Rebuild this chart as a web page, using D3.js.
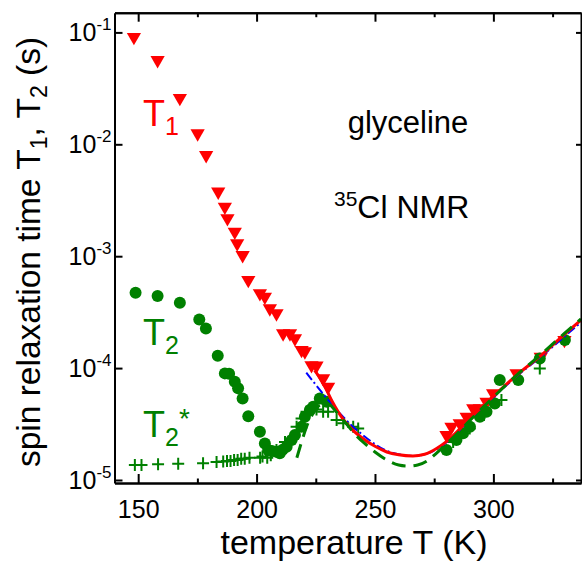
<!DOCTYPE html>
<html>
<head>
<meta charset="utf-8">
<script src="https://cdn.jsdelivr.net/npm/d3@7"></script>
<style>
  body { margin: 0; background: #fff; }
  svg { display: block; font-family: "Liberation Sans", Arial, sans-serif; }
</style>
</head>
<body>
<div id="chart"></div>
<script>
// T1 data (red down triangles)
const T1_TEMP = [148.2, 158.2, 167.6, 175.1, 178.7, 183.8, 186.6, 187.7, 190.8, 191.8, 194.1, 196.5, 201.4, 203.5,
  205.6, 208.4, 211.2, 214.1, 216.2, 219.0, 220.4, 223.2, 225.3, 228.1, 230.2,
  280.2, 282.3, 285.8, 288.7, 291.5, 294.3, 297.1, 299.9, 309.8, 320, 330];
const T1_VALUE = [0.0908, 0.0565, 0.0259, 0.0125, 0.0080, 0.00377, 0.00276, 0.00218, 0.00165, 0.00130, 0.00102, 0.000611, 0.000466, 0.000434,
  0.000341, 0.000308, 0.000204, 0.000204, 0.000184, 0.000145, 0.000141, 0.000106, 0.000105, 0.0000809, 0.0000681,
  0.0000252, 0.0000299, 0.0000321, 0.0000367, 0.0000437, 0.0000437, 0.0000500, 0.0000594, 0.0000897, 0.000126, 0.000178];

// T2 data (green circles)
const T2_TEMP = [148.9, 158.2, 167.6, 175.8, 178.6, 183.6, 186.6, 188.4, 190.8, 192.2, 194.1, 196.5, 201.4, 203.5,
  204.9, 206.5, 208.4, 209.8, 211.0, 212.7, 214.8, 216.2, 219.0, 220.4, 222.5, 223.9, 226.7, 229.6,
  280.2, 284.4, 287.2, 290.1, 294.3, 297.1, 300.6, 302.7, 310.5, 319.6, 330.2];
const T2_VALUE = [4.71e-4, 4.40e-4, 3.84e-4, 2.72e-4, 2.26e-4, 1.29e-4, 8.97e-5, 8.9e-5, 7.55e-5, 6.59e-5, 5.36e-5, 3.72e-5, 2.70e-5, 2.12e-5,
  1.85e-5, 1.82e-5, 1.79e-5, 1.73e-5, 1.86e-5, 1.98e-5, 2.28e-5, 2.52e-5, 2.99e-5, 3.67e-5, 4.22e-5, 4.51e-5, 5.36e-5, 5.00e-5,
  1.85e-5, 2.28e-5, 2.61e-5, 2.99e-5, 3.67e-5, 4.07e-5, 4.83e-5, 7.82e-5, 7.82e-5, 1.22e-4, 1.78e-4];

// T2* data (green crosses)
const T2S_TEMP = [148.6, 151.4, 158.4, 166.9, 177.4, 183.1, 185.9, 187.5, 189, 190.5, 192, 193.5, 195, 197,
  201.5, 202.5, 204.5, 206, 208.4, 212, 216.9, 219, 221.1, 225.3, 228.1, 230.2, 233.8, 236.6, 240.8, 242.9,
  283, 290, 296, 303.4, 319.6];
const T2S_VALUE = [1.36e-5, 1.36e-5, 1.38e-5, 1.40e-5, 1.41e-5, 1.45e-5, 1.46e-5, 1.48e-5, 1.48e-5, 1.51e-5, 1.51e-5, 1.55e-5, 1.55e-5, 1.58e-5,
  1.58e-5, 1.62e-5, 1.58e-5, 1.66e-5, 1.85e-5, 2.19e-5, 2.99e-5, 3.55e-5, 4.07e-5, 4.27e-5, 4.07e-5, 4.07e-5, 3.43e-5, 3.21e-5, 2.99e-5, 2.89e-5,
  2.19e-5, 2.88e-5, 3.80e-5, 5.18e-5, 9.93e-5];

// fit curves
const FIT_RED_TEMP = [224.5, 228, 232, 236, 240, 245, 250, 255, 260, 266, 271, 276, 280, 285, 290, 300, 310, 320, 330, 337];
const FIT_RED_VALUE = [9.55e-5, 7.41e-5, 5.01e-5, 3.63e-5, 2.88e-5, 2.34e-5, 2.00e-5, 1.78e-5, 1.68e-5, 1.64e-5, 1.70e-5, 1.91e-5, 2.19e-5, 2.75e-5, 3.55e-5, 5.62e-5, 8.71e-5, 1.29e-4, 2.00e-4, 2.69e-4];

const FIT_BLUE_TEMP = [221, 225, 230, 235, 240, 245, 250, 255, 260, 266, 272, 278, 285, 290, 300, 310, 320, 330, 337];
const FIT_BLUE_VALUE = [9.1e-5, 7.1e-5, 5.25e-5, 3.98e-5, 3.09e-5, 2.51e-5, 2.09e-5, 1.82e-5, 1.70e-5, 1.64e-5, 1.72e-5, 2.00e-5, 2.69e-5, 3.47e-5, 5.50e-5, 8.51e-5, 1.26e-4, 1.91e-4, 2.57e-4];

const FIT_GREEN_TEMP = [217, 219, 221, 224, 227, 230, 234, 238, 242, 246, 250, 255, 260, 264, 268, 272, 276, 280, 285, 290, 300, 310, 320, 330, 337];
const FIT_GREEN_VALUE = [1.58e-5, 2.19e-5, 2.95e-5, 3.98e-5, 4.68e-5, 4.79e-5, 3.98e-5, 3.16e-5, 2.51e-5, 2.09e-5, 1.78e-5, 1.51e-5, 1.36e-5, 1.33e-5, 1.36e-5, 1.48e-5, 1.74e-5, 2.09e-5, 2.63e-5, 3.39e-5, 5.50e-5, 8.71e-5, 1.32e-4, 2.04e-4, 2.75e-4];

// axis ticks
const X_MAJOR = [150, 200, 250, 300];
const X_MINOR = [175, 225, 275, 325];
const Y_TICKS = [1e-1, 1e-2, 1e-3, 1e-4, 1e-5];
const Y_TICK_EXP = ['-1', '-2', '-3', '-4', '-5'];

const WIDTH = 582, HEIGHT = 562;
const MARGINS = { top: 12.7, bottom: 79, left: 114.5, right: 1 };
const FONT = '"Liberation Sans", Arial, sans-serif';
const GREEN = '#008000';

const svg = d3.select('#chart')
  .append('svg')
  .attr('width', WIDTH)
  .attr('height', HEIGHT);

const xScale = d3.scaleLinear()
  .domain([140, 337])
  .range([MARGINS.left, WIDTH - MARGINS.right]);
const yScale = d3.scaleLog()
  .domain([9.4e-6, 0.15])
  .range([HEIGHT - MARGINS.bottom, MARGINS.top]);

const x0 = MARGINS.left, x1 = WIDTH - MARGINS.right;
const y0 = MARGINS.top, y1 = HEIGHT - MARGINS.bottom;

svg.append('defs').append('clipPath')
  .attr('id', 'plot-clip')
  .append('rect')
  .attr('x', x0).attr('y', y0)
  .attr('width', x1 - x0).attr('height', y1 - y0);

const plot = svg.append('g').attr('clip-path', 'url(#plot-clip)');

// markers
const tri = d3.symbol().type(d3.symbolTriangle).size(88);
plot.selectAll('path.t1')
  .data(T1_TEMP.map((t, i) => [t, T1_VALUE[i]]))
  .join('path')
    .attr('class', 't1')
    .attr('d', tri)
    .attr('transform', d => `translate(${xScale(d[0])},${yScale(d[1])}) rotate(180)`)
    .attr('fill', '#ff0000');

plot.selectAll('circle.t2')
  .data(T2_TEMP.map((t, i) => [t, T2_VALUE[i]]))
  .join('circle')
    .attr('class', 't2')
    .attr('cx', d => xScale(d[0]))
    .attr('cy', d => yScale(d[1]))
    .attr('r', 6)
    .attr('fill', GREEN);

plot.selectAll('path.t2s')
  .data(T2S_TEMP.map((t, i) => [t, T2S_VALUE[i]]))
  .join('path')
    .attr('class', 't2s')
    .attr('d', 'M-6,0H6M0,-6V6')
    .attr('transform', d => `translate(${xScale(d[0])},${yScale(d[1])})`)
    .attr('stroke', GREEN)
    .attr('stroke-width', 2)
    .attr('fill', 'none');

// fit curves
const line = d3.line()
  .x(d => xScale(d[0]))
  .y(d => yScale(d[1]))
  .curve(d3.curveMonotoneX);

plot.append('path')
  .datum(FIT_BLUE_TEMP.map((t, i) => [t, FIT_BLUE_VALUE[i]]))
  .attr('d', line)
  .attr('fill', 'none')
  .attr('stroke', '#0000ff')
  .attr('stroke-width', 2)
  .attr('stroke-dasharray', '9,3,2,3');

plot.append('path')
  .datum(FIT_RED_TEMP.map((t, i) => [t, FIT_RED_VALUE[i]]))
  .attr('d', line)
  .attr('fill', 'none')
  .attr('stroke', '#ff0000')
  .attr('stroke-width', 3);

plot.append('path')
  .datum(FIT_GREEN_TEMP.map((t, i) => [t, FIT_GREEN_VALUE[i]]))
  .attr('d', line)
  .attr('fill', 'none')
  .attr('stroke', GREEN)
  .attr('stroke-width', 3)
  .attr('stroke-dasharray', '14,8');

// axes
function styleAxis(g) {
  g.selectAll('path.domain').attr('stroke', '#000').attr('stroke-width', 2);
  g.selectAll('.tick line').attr('stroke', '#000').attr('stroke-width', 2);
}

svg.append('g')
  .attr('transform', `translate(0,${y1})`)
  .call(d3.axisBottom(xScale).tickValues(X_MAJOR).tickSize(-9).tickSizeOuter(0).tickPadding(17))
  .call(styleAxis)
  .call(g => g.selectAll('.tick text')
    .attr('font-family', FONT).attr('font-size', 25).attr('fill', '#000'));

svg.append('g')
  .attr('transform', `translate(0,${y1})`)
  .call(d3.axisBottom(xScale).tickValues(X_MINOR).tickSize(-4.5).tickSizeOuter(0).tickFormat(''))
  .call(styleAxis);

svg.append('g')
  .attr('transform', `translate(0,${y0})`)
  .call(d3.axisTop(xScale).tickValues(X_MAJOR).tickSize(-9).tickSizeOuter(0).tickFormat(''))
  .call(styleAxis);

svg.append('g')
  .attr('transform', `translate(0,${y0})`)
  .call(d3.axisTop(xScale).tickValues(X_MINOR).tickSize(-4.5).tickSizeOuter(0).tickFormat(''))
  .call(styleAxis);

svg.append('g')
  .attr('transform', `translate(${x0},0)`)
  .call(d3.axisLeft(yScale).tickValues(Y_TICKS).tickSize(-8).tickSizeOuter(0).tickFormat(''))
  .call(styleAxis);

svg.append('g')
  .attr('transform', `translate(${x1},0)`)
  .call(d3.axisRight(yScale).tickValues(Y_TICKS).tickSize(-5).tickSizeOuter(0).tickFormat(''))
  .call(styleAxis);

// y tick labels 10^n
const yLab = svg.selectAll('text.ylab')
  .data(Y_TICKS)
  .join('text')
    .attr('class', 'ylab')
    .attr('x', x0 - 3)
    .attr('y', d => yScale(d) + 9)
    .attr('text-anchor', 'end')
    .attr('font-family', FONT)
    .attr('font-size', 25)
    .attr('fill', '#000');
yLab.append('tspan').text('10');
yLab.append('tspan')
  .attr('font-size', 17)
  .attr('dy', -11)
  .text((d, i) => Y_TICK_EXP[i]);

// axis titles
svg.append('text')
  .attr('x', 354)
  .attr('y', 554)
  .attr('text-anchor', 'middle')
  .attr('font-family', FONT)
  .attr('font-size', 34)
  .attr('fill', '#000')
  .text('temperature T (K)');

const yTitle = svg.append('text')
  .attr('transform', 'translate(40,252) rotate(-90)')
  .attr('text-anchor', 'middle')
  .attr('font-family', FONT)
  .attr('font-size', 33.5)
  .attr('fill', '#000');
yTitle.append('tspan').text('spin relaxation time T');
yTitle.append('tspan').attr('font-size', 23).attr('dy', 7).text('1');
yTitle.append('tspan').attr('dy', -7).text(', T');
yTitle.append('tspan').attr('font-size', 23).attr('dy', 7).text('2');
yTitle.append('tspan').attr('dy', -7).text(' (s)');

// series labels
function seriesLabel(x, y, color, sub, star) {
  const t = svg.append('text')
    .attr('x', x).attr('y', y)
    .attr('font-family', FONT)
    .attr('font-size', 36)
    .attr('fill', color);
  t.append('tspan').text('T');
  t.append('tspan').attr('font-size', 25).attr('dy', 9).text(sub);
  if (star) t.append('tspan').attr('font-size', 28).attr('dy', -18).text('*');
}
seriesLabel(143, 126, '#ff0000', '1', false);
seriesLabel(143, 345, GREEN, '2', false);
seriesLabel(143, 437, GREEN, '2', true);

// annotations
svg.append('text')
  .attr('x', 408)
  .attr('y', 133)
  .attr('text-anchor', 'middle')
  .attr('font-family', FONT)
  .attr('font-size', 31)
  .attr('fill', '#000')
  .text('glyceline');

const nmr = svg.append('text')
  .attr('x', 334)
  .attr('y', 218)
  .attr('font-family', FONT)
  .attr('font-size', 32)
  .attr('fill', '#000');
nmr.append('tspan').attr('font-size', 21).attr('dy', -12).text('35');
nmr.append('tspan').attr('dy', 12).text('Cl NMR');
</script>
</body>
</html>
